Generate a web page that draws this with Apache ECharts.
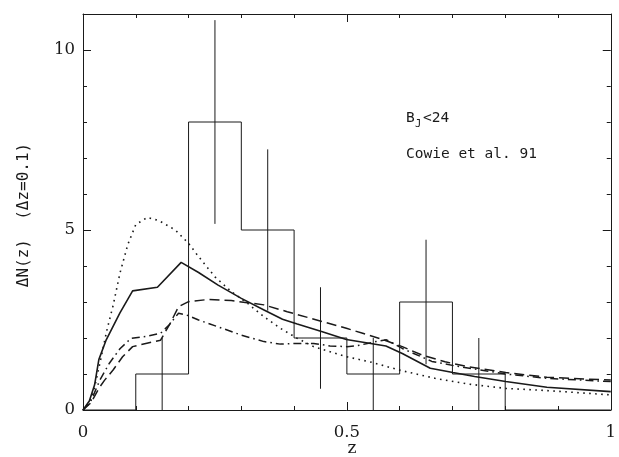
<!DOCTYPE html>
<html>
<head>
<meta charset="utf-8">
<script src="https://cdn.jsdelivr.net/npm/echarts@6/dist/echarts.min.js"></script>
<style>html,body{margin:0;padding:0;background:#fff}#c{width:619px;height:457px}</style>
</head>
<body>
<div id="c"></div>
<script>
// Histogram (Cowie et al. 91), bins of width 0.1
var binLeft = [0, 0.1, 0.2, 0.3, 0.4, 0.5, 0.6, 0.7, 0.8, 0.9];
var binCount = [0, 1, 8, 5, 2, 1, 3, 1, 0, 0];
// Error bars
var errZ = [0.15, 0.25, 0.35, 0.45, 0.55, 0.65, 0.75];
var errLow = [0, 5.17, 2.76, 0.59, 0, 1.27, 0];
var errHigh = [2, 10.83, 7.24, 3.41, 2, 4.73, 2];
// Model curves
var solidZ = [0, 0.012, 0.022, 0.03, 0.044, 0.07, 0.094, 0.141, 0.186, 0.219, 0.256, 0.30, 0.343, 0.378, 0.406, 0.452, 0.499, 0.574, 0.605, 0.658, 0.701, 0.742, 0.801, 0.879, 1.0];
var solidN = [0, 0.25, 0.7, 1.4, 1.95, 2.7, 3.31, 3.41, 4.10, 3.82, 3.47, 3.10, 2.78, 2.52, 2.39, 2.18, 1.96, 1.78, 1.57, 1.16, 1.04, 0.93, 0.79, 0.63, 0.51];
var dottedZ = [0, 0.01, 0.02, 0.032, 0.045, 0.057, 0.07, 0.085, 0.1, 0.122, 0.144, 0.175, 0.2, 0.219, 0.25, 0.281, 0.312, 0.343, 0.374, 0.406, 0.437, 0.468, 0.499, 0.543, 0.602, 0.667, 0.73, 0.801, 0.879, 1.0];
var dottedN = [0, 0.15, 0.5, 1.3, 2.2, 2.9, 3.8, 4.6, 5.15, 5.35, 5.26, 5.0, 4.63, 4.26, 3.70, 3.29, 2.96, 2.59, 2.27, 1.99, 1.76, 1.62, 1.48, 1.34, 1.1, 0.88, 0.72, 0.60, 0.54, 0.42];
var dashedZ = [0, 0.015, 0.03, 0.041, 0.057, 0.075, 0.094, 0.119, 0.147, 0.165, 0.181, 0.2, 0.237, 0.281, 0.343, 0.387, 0.455, 0.499, 0.53, 0.568, 0.605, 0.642, 0.686, 0.73, 0.801, 0.879, 1.0];
var dashedN = [0, 0.2, 0.6, 0.83, 1.11, 1.48, 1.76, 1.85, 1.94, 2.4, 2.87, 3.01, 3.07, 3.04, 2.92, 2.73, 2.45, 2.27, 2.13, 1.96, 1.76, 1.53, 1.34, 1.20, 1.04, 0.91, 0.83];
var dashdotZ = [0, 0.015, 0.032, 0.05, 0.07, 0.091, 0.119, 0.147, 0.163, 0.181, 0.2, 0.219, 0.256, 0.30, 0.343, 0.374, 0.406, 0.437, 0.468, 0.5, 0.518, 0.555, 0.575, 0.605, 0.661, 0.703, 0.801, 0.879, 1.0];
var dashdotN = [0, 0.25, 0.83, 1.3, 1.7, 1.99, 2.04, 2.13, 2.36, 2.69, 2.62, 2.50, 2.31, 2.08, 1.90, 1.83, 1.85, 1.85, 1.78, 1.76, 1.78, 1.90, 1.95, 1.71, 1.35, 1.23, 1.0, 0.88, 0.79];
// Tick labels
var xTickLabels = ['0', '0.5', '1'];
var yTickLabels = ['0', '5', '10'];

function zip(a, b) { return a.map(function (v, i) { return [v, b[i]]; }); }

var histData = binLeft.map(function (z, i) { return [z, binCount[i]]; });
histData.push([1, 0]);
var errData = errZ.map(function (z, i) { return [z, errLow[i], errHigh[i]]; });

var INK = '#1a1a1a';
var serif = 'DejaVu Serif';
var mono = 'DejaVu Sans Mono';

function xAxisCfg(pos, labels) {
  return {
    type: 'value', position: pos, min: 0, max: 1, interval: 0.5,
    axisLine: { show: true, onZero: false, lineStyle: { color: INK, width: 1 } },
    axisTick: { show: true, inside: true, length: 8, lineStyle: { color: INK, width: 1 } },
    minorTick: { show: true, splitNumber: 5, length: 4, lineStyle: { color: INK, width: 1 } },
    splitLine: { show: false }, minorSplitLine: { show: false },
    axisLabel: labels ? {
      show: true, margin: 14, color: INK, fontFamily: serif, fontSize: 16.5,
      formatter: function (v) { var i = Math.round(v * 2); return (Math.abs(v * 2 - i) < 1e-6 && xTickLabels[i] !== undefined) ? xTickLabels[i] : ''; }
    } : { show: false }
  };
}
function yAxisCfg(pos, labels) {
  return {
    type: 'value', position: pos, min: 0, max: 11, interval: 5,
    axisLine: { show: true, onZero: false, lineStyle: { color: INK, width: 1 } },
    axisTick: { show: true, inside: true, length: 8, lineStyle: { color: INK, width: 1 } },
    minorTick: { show: true, splitNumber: 5, length: 4, lineStyle: { color: INK, width: 1 } },
    splitLine: { show: false }, minorSplitLine: { show: false },
    axisLabel: labels ? {
      show: true, margin: 8, color: INK, fontFamily: serif, fontSize: 16.5,
      formatter: function (v) { var i = v / 5; return (Number.isInteger(i) && yTickLabels[i] !== undefined) ? yTickLabels[i] : ''; }
    } : { show: false }
  };
}

function curve(z, n, type, width) {
  return {
    type: 'line', data: zip(z, n), showSymbol: false, symbol: 'none', smooth: false,
    xAxisIndex: 0, yAxisIndex: 0, silent: true, z: 3,
    lineStyle: { color: INK, width: width, type: type, cap: 'butt' }
  };
}

var chart = echarts.init(document.getElementById('c'), null, { renderer: 'canvas' });
chart.setOption({
  animation: false,
  backgroundColor: '#fff',
  grid: { left: 83, right: 1, top: 14, bottom: 47, containLabel: false },
  xAxis: [xAxisCfg('bottom', true), xAxisCfg('top', false)],
  yAxis: [yAxisCfg('left', true), yAxisCfg('right', false)],
  series: [
    {
      type: 'line', data: histData, step: 'end', showSymbol: false, symbol: 'none',
      xAxisIndex: 0, yAxisIndex: 0, silent: true, z: 2,
      lineStyle: { color: INK, width: 1 }
    },
    {
      type: 'custom', data: errData, xAxisIndex: 0, yAxisIndex: 0, silent: true, z: 2,
      renderItem: function (params, api) {
        var p1 = api.coord([api.value(0), api.value(1)]);
        var p2 = api.coord([api.value(0), api.value(2)]);
        return { type: 'line', shape: { x1: p1[0], y1: p1[1], x2: p2[0], y2: p2[1] }, style: { stroke: INK, lineWidth: 1 } };
      }
    },
    curve(solidZ, solidN, 'solid', 1.6),
    curve(dottedZ, dottedN, [1.6, 4.4], 1.6),
    curve(dashedZ, dashedN, [10, 5], 1.5),
    curve(dashdotZ, dashdotN, [8, 4, 1.6, 4], 1.5)
  ],
  graphic: [
    { type: 'text', left: 406, top: 111, style: { text: 'B', font: '14.5px "DejaVu Sans Mono"', fill: INK } },
    { type: 'text', left: 415, top: 119, style: { text: 'J', font: '10.5px "DejaVu Sans Mono"', fill: INK } },
    { type: 'text', left: 423, top: 111, style: { text: '<24', font: '14.5px "DejaVu Sans Mono"', fill: INK } },
    { type: 'text', left: 406, top: 147, style: { text: 'Cowie et al. 91', font: '14.5px "DejaVu Sans Mono"', fill: INK } },
    { type: 'text', x: 352, y: 449, style: { text: 'z', font: '17px "DejaVu Serif"', fill: INK, textAlign: 'center', textVerticalAlign: 'middle' } },
    { type: 'text', x: 24, y: 215, rotation: Math.PI / 2, style: { text: '\u0394N(z)  (\u0394z=0.1)', font: '16px "DejaVu Sans Mono"', fill: INK, textAlign: 'center', textVerticalAlign: 'middle' } }
  ]
});
</script>
</body>
</html>
